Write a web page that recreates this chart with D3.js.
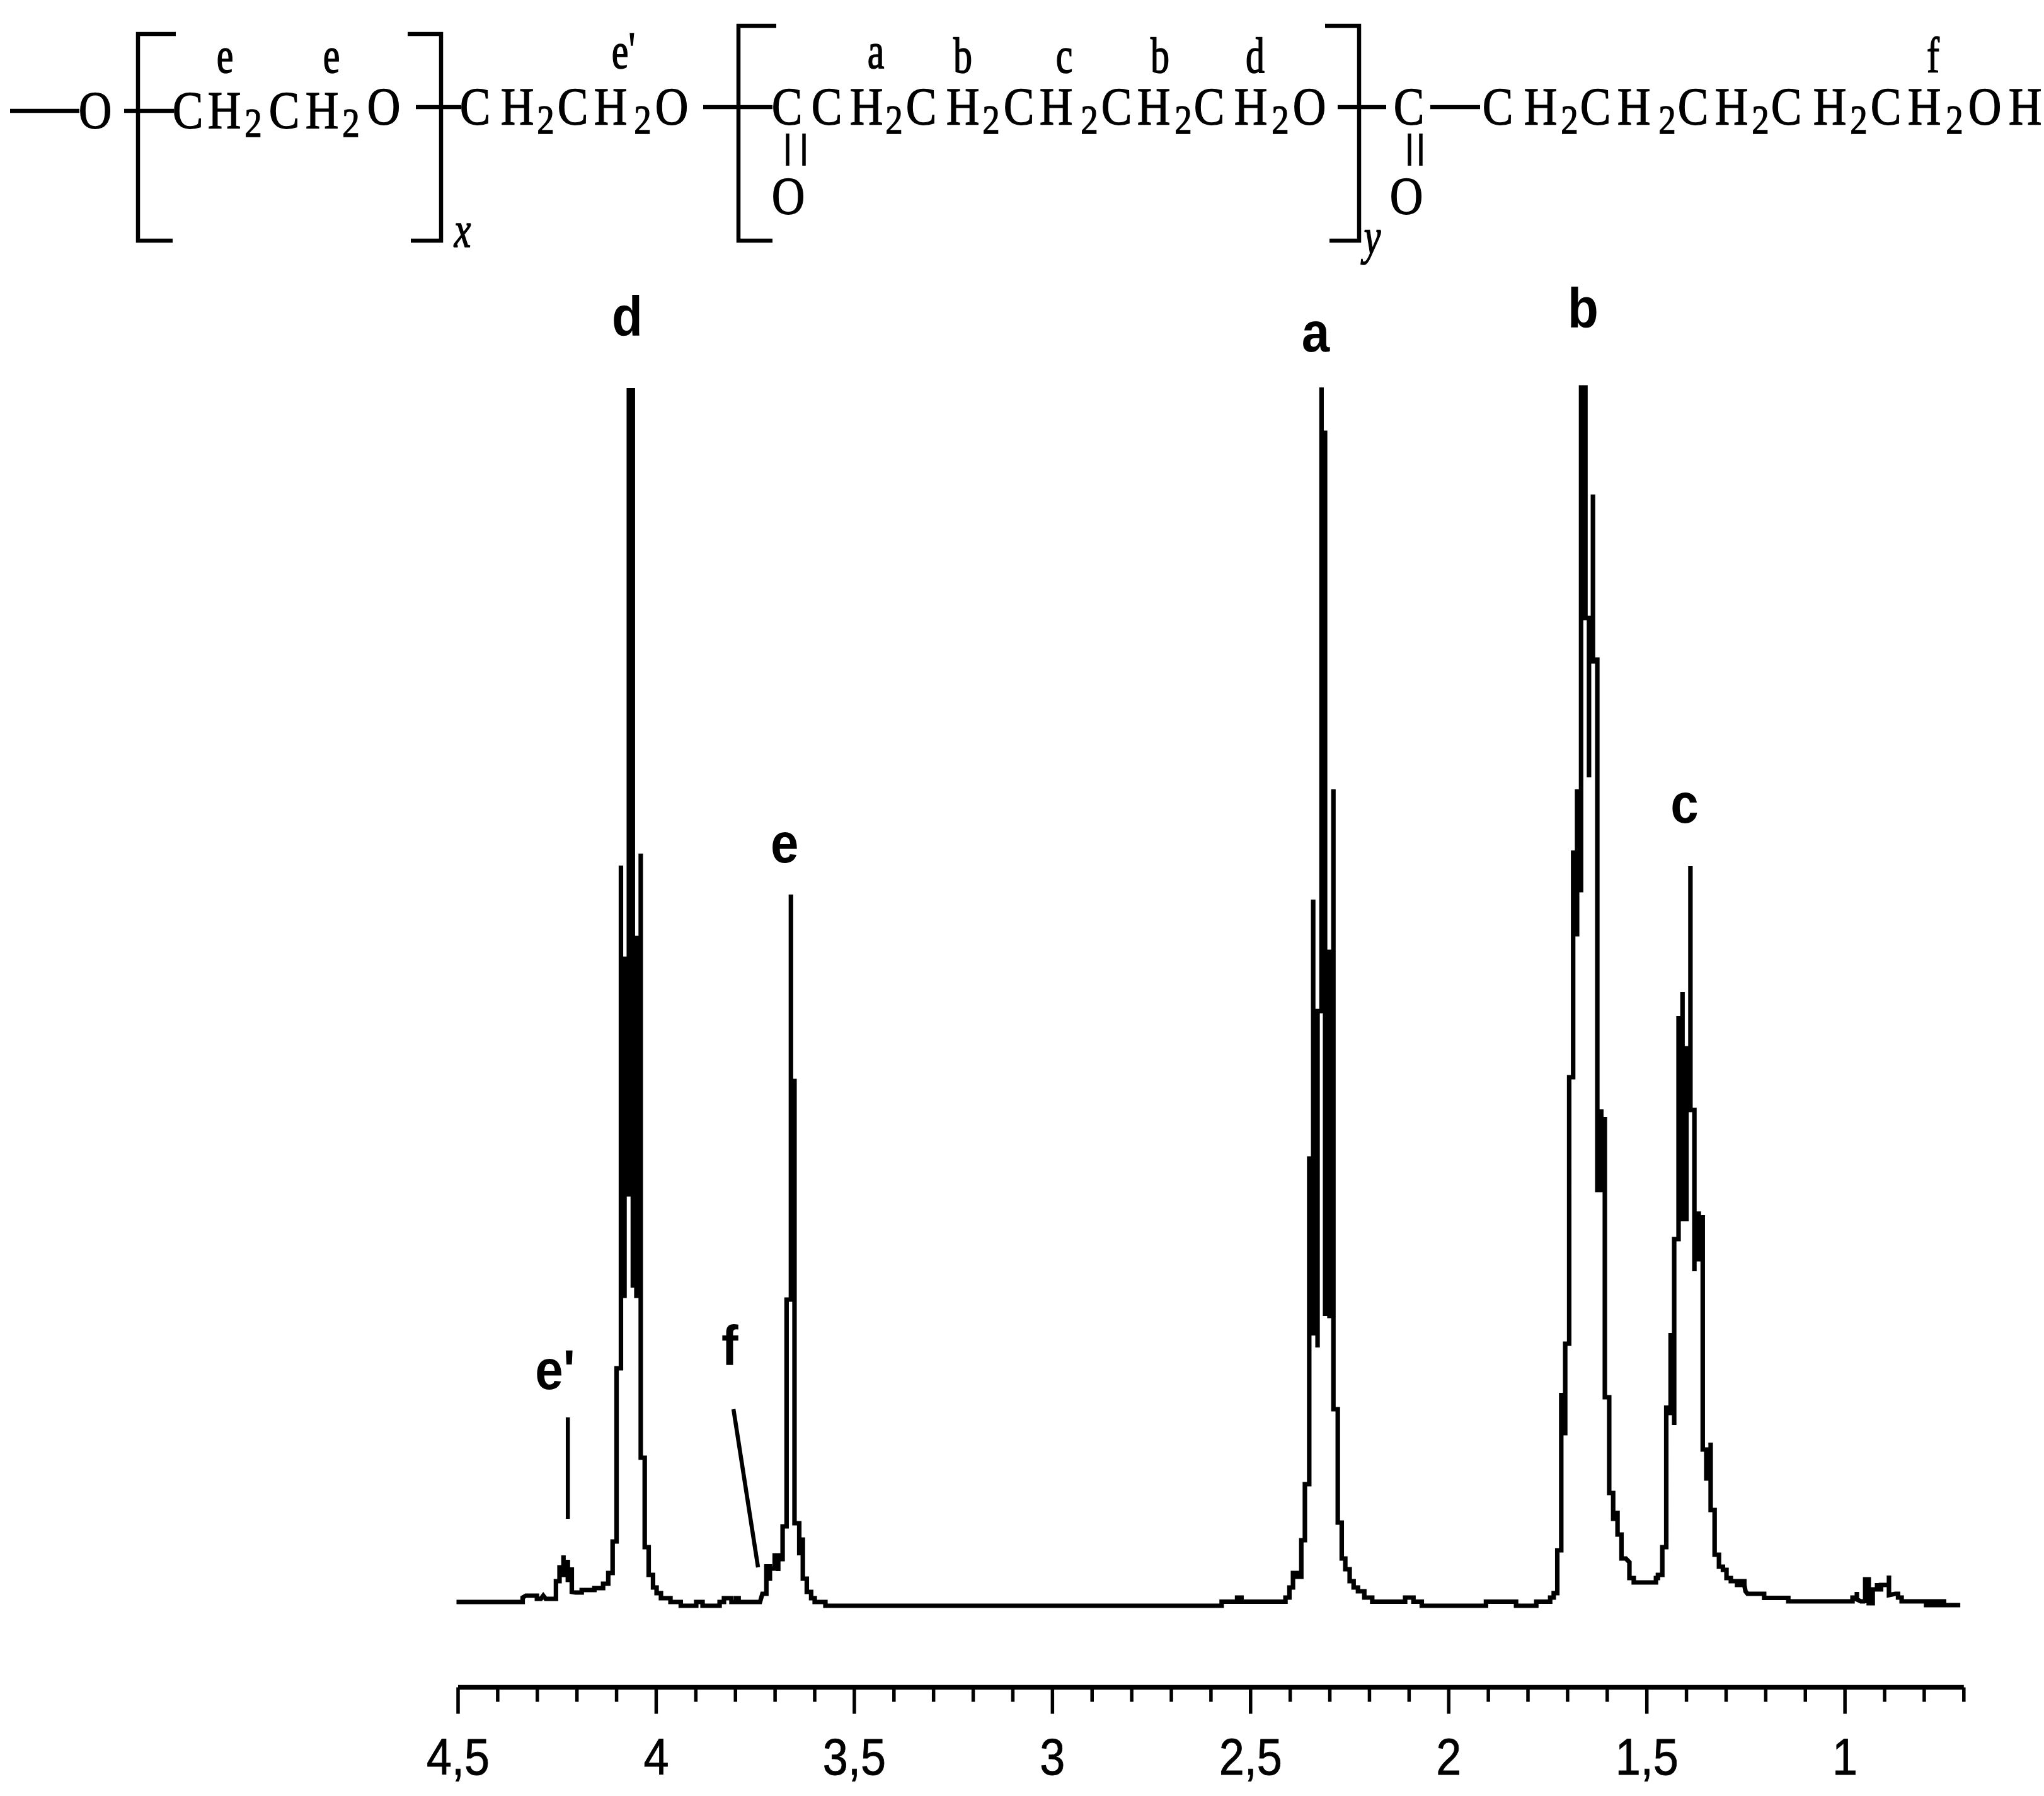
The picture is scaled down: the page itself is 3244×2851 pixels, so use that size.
<!DOCTYPE html>
<html>
<head>
<meta charset="utf-8">
<script src="https://cdnjs.cloudflare.com/ajax/libs/d3/7.8.5/d3.min.js"></script>
<style>
html, body { margin: 0; background: #fff; }
svg { display: block; }
</style>
</head>
<body>
<svg id="chart" width="3244" height="2851"></svg>
<script>
// spectrum trace: [shift in ppm, intensity]
var leftBaseline = [[4.504,3.5],[4.337,3.5],[4.337,7],[4.329,8.5],[4.301,8.5],[4.301,6],[4.291,6],[4.285,8.5],[4.279,6],[4.253,6],[4.253,20]];
var peakEprime = [[4.244,20],[4.244,31],[4.234,31],[4.234,40.5],[4.234,25],[4.223,25],[4.223,37],[4.223,21],[4.213,21],[4.213,31],[4.213,11.5],
    [4.204,11],[4.188,11],[4.188,13],[4.156,13],[4.156,14.5],[4.134,14.5],[4.134,18],[4.121,18],[4.121,26.5],[4.110,26.5],[4.110,51.5],[4.100,51.5],[4.100,189],[4.089,189]];
var peakD = [[4.089,588],[4.089,246.5],[4.080,246.5],[4.080,514],[4.069,514],[4.069,967],[4.069,327],[4.059,327],[4.059,253],[4.059,967],[4.059,530.5],
    [4.050,530.5],[4.050,246.5],[4.039,246.5],[4.039,597.5],[4.039,118],[4.029,118],[4.029,47],[4.019,47],[4.019,25],[4.008,25],[4.008,15],[3.999,15],[3.999,10.5],
    [3.988,10.5],[3.988,6.5],[3.964,6.5],[3.964,3.5],[3.938,3.5],[3.938,0.5]];
var regionF = [[3.899,0.5],[3.899,3.5],[3.883,3.5],[3.883,0.5],[3.840,0.5],[3.840,3.5],[3.829,3.5],[3.829,6.5],[3.810,6.5],[3.810,3.5],[3.798,3.5],[3.798,6.5],
    [3.792,6.5],[3.792,3.5],[3.738,3.5],[3.732,10],[3.722,10]];
var peakE = [[3.722,33.5],[3.722,22],[3.713,22],[3.713,33.5],[3.713,30],[3.701,30],[3.701,40.5],[3.692,40.5],[3.692,28],[3.692,37.5],[3.681,37.5],[3.681,63.5],
    [3.671,63.5],[3.671,243.5],[3.660,243.5],[3.660,565],[3.660,417],[3.651,417],[3.651,66],[3.639,66],[3.639,40.5],[3.639,53],[3.630,53],[3.630,22],[3.620,22],
    [3.620,11.5],[3.609,11.5],[3.609,6.5],[3.600,6.5],[3.600,3.5],[3.573,3.5],[3.573,0.5]];
var midBaseline = [[2.573,0.5],[2.573,3.75],[2.534,3.75],[2.534,7],[2.523,7],[2.523,3.75],[2.412,3.75],[2.412,7],[2.402,7],[2.402,15]];
var peakA = [[2.393,15],[2.393,26.5],[2.382,26.5],[2.382,23.5],[2.372,23.5],[2.372,52.5],[2.363,52.5],[2.363,97],[2.352,97],[2.352,355.5],[2.342,355.5],[2.342,215],
    [2.342,561],[2.342,472.5],[2.331,472.5],[2.331,205.5],[2.331,472.5],[2.321,472.5],[2.321,967.5],[2.321,931.5],[2.312,931.5],[2.312,230.5],[2.312,519.5],
    [2.301,519.5],[2.301,230.5],[2.291,230.5],[2.291,648.5],[2.291,156.5],[2.280,156.5],[2.280,66.5],[2.270,66.5],[2.270,38],[2.261,38],[2.261,29.5],[2.250,29.5],
    [2.250,20],[2.240,20],[2.240,15],[2.229,15],[2.229,12],[2.213,12],[2.213,7],[2.193,7],[2.193,3.75]];
var baselineAB = [[2.110,3.75],[2.110,7],[2.089,7],[2.089,3.75],[2.068,3.75],[2.068,0.5],[1.906,0.5],[1.906,3.75],[1.830,3.75],[1.830,0.5],[1.779,0.5],[1.779,3.75],
    [1.744,3.75],[1.744,7],[1.735,7],[1.735,10.5],[1.726,10.5]];
var peakB = [[1.726,44.5],[1.716,44.5],[1.716,169.5],[1.716,137.5],[1.706,137.5],[1.706,208.5],[1.696,208.5],[1.696,420],[1.686,420],[1.686,600],[1.686,533.5],
    [1.676,533.5],[1.676,648.5],[1.676,568.5],[1.666,568.5],[1.666,967.5],[1.655,967.5],[1.655,784.5],[1.646,784.5],[1.646,658],[1.646,750],[1.636,750],[1.636,882.5],
    [1.636,751.5],[1.625,751.5],[1.625,330.5],[1.615,330.5],[1.615,394.5],[1.615,350],[1.606,350],[1.606,388.5],[1.606,166],[1.595,166],[1.595,90],[1.585,90],
    [1.585,69.5],[1.574,69.5],[1.574,76],[1.574,57],[1.564,57],[1.564,38],[1.553,38],[1.544,35],[1.544,22.5],[1.533,22.5],[1.533,19],[1.477,19],[1.477,22.5],
    [1.472,22.5],[1.472,25],[1.461,25],[1.461,47]];
var peakC = [[1.451,47],[1.451,159.5],[1.451,153.5],[1.440,153.5],[1.440,217],[1.440,175],[1.431,175],[1.431,144],[1.431,291.5],[1.420,291.5],[1.420,468.5],[1.420,310.5],
    [1.410,310.5],[1.410,487.5],[1.410,307.5],[1.400,307.5],[1.400,443],[1.390,443],[1.390,587.5],[1.390,394],[1.380,394],[1.380,266],[1.380,275.5],[1.369,275.5],
    [1.369,313.5],[1.369,300],[1.359,300],[1.359,310.5],[1.359,124.5],[1.350,124.5],[1.350,101.5],[1.339,101.5],[1.339,130],[1.339,76.5],[1.329,76.5],[1.329,41],
    [1.318,41],[1.318,31.5],[1.308,31.5],[1.308,29],[1.299,29],[1.299,22.5],[1.288,22.5],[1.288,20],[1.254,20],[1.254,17],[1.278,17],[1.254,17],[1.251,12],[1.246,10],
    [1.204,10],[1.204,6.75],[1.143,6.75],[1.143,4]];
var rightBaseline = [[0.981,4],[0.981,7],[0.970,7],[0.970,11.5],[0.970,5.5],[0.960,4],[0.949,4],[0.949,2.5],[0.949,21.5],[0.940,21.5],[0.940,2.5],[0.930,2.5],[0.930,13.5],
    [0.919,13.5],[0.919,18.5],[0.919,13.5],[0.909,13.5],[0.909,17],[0.898,17],[0.889,17],[0.889,24.5],[0.889,9],[0.873,10],[0.866,10],[0.866,7],[0.857,7],[0.857,4],
    [0.801,4],[0.750,4],[0.750,1],[0.801,1],[0.750,1],[0.709,1]];

var majorTicks = [4.5, 4, 3.5, 3, 2.5, 2, 1.5, 1];
var minorTicks = [4.4, 4.3, 4.2, 4.1, 3.9, 3.8, 3.7, 3.6, 3.4, 3.3, 3.2, 3.1, 2.9, 2.8, 2.7, 2.6,
    2.4, 2.3, 2.2, 2.1, 1.9, 1.8, 1.7, 1.6, 1.4, 1.3, 1.2, 1.1, 0.9, 0.8, 0.7];

// peak letters: [text, ppm, intensity at baseline of the letter]
var peakLabels = [["d", 4.073, 1008.5], ["a", 2.336, 996], ["b", 1.661, 1015], ["c", 1.405, 622],
    ["e", 3.676, 590.5], ["f", 3.814, 191.5], ["e'", 4.255, 172.5]];
// leader lines: [ppm1, intensity1, ppm2, intensity2]
var leaders = [[4.223, 150, 4.223, 69.5], [3.805, 156.5, 3.743, 31]];

// structure formula at the top: [glyph, centre x, baseline]
var formulaCaps = [["O",151,204],["C",298,204],["H",356,204],["C",451,204],["H",511,204],["O",609,198],
    ["C",754,198],["H",821,198],["C",909,198],["H",969,198],["O",1066,198],
    ["C",1249,198],["C",1312,198],["H",1375,198],["C",1462,198],["H",1528,198],["C",1617,198],["H",1676,198],
    ["C",1772,198],["H",1831,198],["C",1919,198],["H",1985,198],["O",2078,198],
    ["C",2236,198],["C",2377,198],["H",2445,198],["C",2532,198],["H",2593,198],["C",2687,198],["H",2748,198],
    ["C",2835,198],["H",2904,198],["C",2993,198],["H",3054,198],["O",3150,198],["H",3214,198],
    ["O",1251,340],["O",2232,340]];
var formulaSubs = [["2",402,217],["2",557,217],["2",866,212],["2",1020,212],["2",1419,212],["2",1573,212],
    ["2",1729,212],["2",1878,212],["2",2032,212],["2",2491,212],["2",2646,212],["2",2794,212],["2",2950,212],["2",3102,212]];
var formulaTags = [["e",357,115],["e",526,115],["e",984,108],["'",1003,106],["a",1390,108],["b",1528,115],
    ["c",1689,115],["b",1841,115],["d",1992,115],["f",3068,115]];
var formulaItalic = [["x",734,392],["y",2178,403]];
var formulaBonds = [[[16,176],[126,176]], [[197,176],[276,176]], [[660,170],[732,170]], [[1116,170],[1226,170]],
    [[2123,170],[2200,170]], [[2270,170],[2349,170]],
    [[1250,212],[1250,263]], [[1276,212],[1276,263]], [[2237,212],[2237,263]], [[2255,212],[2255,263]]];
var formulaBrackets = [[[279,54],[219,54],[219,382],[274,382]], [[647,54],[700,54],[700,382],[652,382]],
    [[1232,41],[1172,41],[1172,382],[1226,382]], [[2103,41],[2157,41],[2157,382],[2110,382]]];

var spectrum = d3.merge([leftBaseline, peakEprime, peakD, regionF, peakE, midBaseline, peakA, baselineAB, peakB, peakC, rightBaseline]);

var svg = d3.select("#chart");
svg.append("rect").attr("width", 3244).attr("height", 2851).attr("fill", "#fff");

var x = d3.scaleLinear().domain([4.5, 0.7]).range([727, 3116.8]);
var y = d3.scaleLinear().domain([0, 1000]).range([2550, 550]);

var line = d3.line().x(d => x(d[0])).y(d => y(d[1]));

svg.append("path")
    .datum(spectrum)
    .attr("d", line)
    .attr("fill", "none")
    .attr("stroke", "#000")
    .attr("stroke-width", 7.2)
    .attr("stroke-linejoin", "miter");

svg.selectAll(".leader")
    .data(leaders)
    .enter().append("line")
    .attr("class", "leader")
    .attr("x1", d => x(d[0]))
    .attr("y1", d => y(d[1]))
    .attr("x2", d => x(d[2]))
    .attr("y2", d => y(d[3]))
    .attr("stroke", "#000")
    .attr("stroke-width", 6.5);

svg.selectAll(".peaklabel")
    .data(peakLabels)
    .enter().append("text")
    .attr("class", "peaklabel")
    .attr("transform", d => "translate(" + x(d[1]) + "," + y(d[2]) + ") scale(1,1.1)")
    .attr("text-anchor", "middle")
    .style("font-family", "'Liberation Sans', Arial, sans-serif")
    .style("font-weight", "bold")
    .style("font-size", "80px")
    .text(d => d[0]);

// ppm axis, long ticks with labels and short ticks without
var axisY = 2678.5;
var major = d3.axisBottom(x)
    .tickValues(majorTicks)
    .tickSizeInner(42)
    .tickSizeOuter(0)
    .offset(0)
    .tickFormat(d => String(d).replace(".", ","));
var minor = d3.axisBottom(x)
    .tickValues(minorTicks)
    .tickSizeInner(23)
    .tickSizeOuter(0)
    .offset(0)
    .tickFormat("");

var gMinor = svg.append("g").attr("transform", "translate(0," + axisY + ")").call(minor);
var gMajor = svg.append("g").attr("transform", "translate(0," + axisY + ")").call(major);
gMinor.selectAll("line").attr("stroke", "#000").attr("stroke-width", 5.5);
gMajor.selectAll("line").attr("stroke", "#000").attr("stroke-width", 5.5);
gMinor.select(".domain").remove();
gMajor.select(".domain").attr("stroke", "#000").attr("stroke-width", 7.5);
gMajor.selectAll("text")
    .attr("y", null)
    .attr("dy", null)
    .attr("fill", "#000")
    .attr("stroke", "#000")
    .attr("stroke-width", 0.8)
    .attr("transform", "translate(0,138.5) scale(1,1.12)")
    .style("font-family", "'Liberation Sans', Arial, sans-serif")
    .style("font-size", "72px");

// structure formula
var formula = svg.append("g").attr("fill", "#000");

function drawGlyphs(rows, size, stretch, style) {
    formula.selectAll(null)
	.data(rows)
	.enter().append("text")
	.attr("transform", d => "translate(" + d[1] + "," + d[2] + ") scale(1," + stretch + ")")
	.attr("text-anchor", "middle")
	.attr("stroke", "#000")
	.attr("stroke-width", 1.2)
	.style("font-family", "'Liberation Serif', 'Times New Roman', serif")
	.style("font-style", style)
	.style("font-size", size + "px")
	.text(d => d[0]);
}
drawGlyphs(formulaCaps, 73, 1.15, "normal");
drawGlyphs(formulaSubs, 55, 1.2, "normal");
drawGlyphs(formulaTags, 60, 1.35, "normal");
drawGlyphs(formulaItalic, 60, 1.35, "italic");

var plain = d3.line();
formula.selectAll(".bond")
    .data(formulaBonds)
    .enter().append("path")
    .attr("class", "bond")
    .attr("d", plain)
    .attr("fill", "none")
    .attr("stroke", "#000")
    .attr("stroke-width", (d, i) => i < 6 ? 6.5 : 5.5);
formula.selectAll(".bracket")
    .data(formulaBrackets)
    .enter().append("path")
    .attr("class", "bracket")
    .attr("d", plain)
    .attr("fill", "none")
    .attr("stroke", "#000")
    .attr("stroke-width", 6.5);
</script>
</body>
</html>
